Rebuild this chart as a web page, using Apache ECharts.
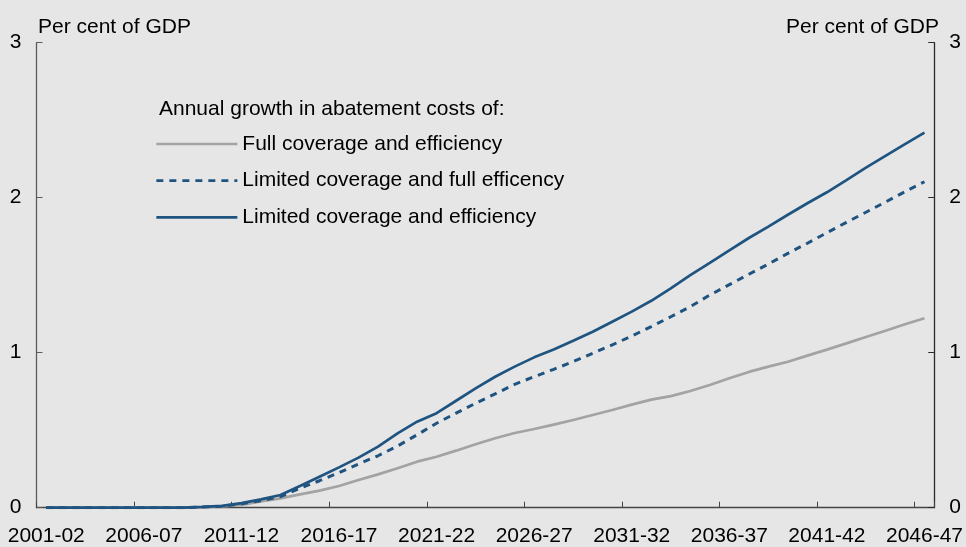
<!DOCTYPE html>
<html lang="en">
<head>
    <title>Annual growth in abatement costs</title>
    <meta charset="utf-8">
    <script src="https://cdn.jsdelivr.net/npm/echarts@6.0.0/dist/echarts.min.js"></script>
    <style>
        body {
            margin: 0;
            background: #e6e6e6;
        }

        #chart {
            width: 966px;
            height: 547px;
        }
    </style>
</head>
<body>
<div id="chart"></div>
<script>
    // financial years 2001-02 .. 2046-47
    const years = [];
    for (let y = 2001; y <= 2046; y++) {
        years.push(y + '-' + String((y + 1) % 100).padStart(2, '0'));
    }

    const yTicks = [0, 1, 2, 3];

    const fullCoverage = [
        0, 0, 0, 0, 0, 0, 0, 0, 0.003, 0.008,
        0.018, 0.04, 0.06, 0.086, 0.11, 0.14, 0.179, 0.215, 0.254, 0.297,
        0.329, 0.368, 0.409, 0.448, 0.482, 0.508, 0.536, 0.566, 0.598, 0.63,
        0.665, 0.697, 0.72, 0.753, 0.792, 0.835, 0.876, 0.91, 0.942, 0.981,
        1.02, 1.06, 1.101, 1.142, 1.183, 1.222
    ];

    const limitedFullEff = [
        0, 0, 0, 0, 0, 0, 0, 0, 0.004, 0.01,
        0.025, 0.045, 0.071, 0.125, 0.174, 0.226, 0.282, 0.335, 0.398, 0.47,
        0.545, 0.61, 0.674, 0.734, 0.796, 0.845, 0.893, 0.942, 0.996, 1.05,
        1.108, 1.168, 1.232, 1.297, 1.372, 1.439, 1.506, 1.572, 1.641, 1.706,
        1.774, 1.841, 1.906, 1.972, 2.039, 2.103
    ];

    const limitedBoth = [
        0, 0, 0, 0, 0, 0, 0, 0, 0.005, 0.012,
        0.03, 0.054, 0.082, 0.14, 0.2, 0.26, 0.323, 0.394, 0.48, 0.555,
        0.61, 0.69, 0.77, 0.845, 0.91, 0.97, 1.02, 1.077, 1.135, 1.2,
        1.265, 1.335, 1.415, 1.5, 1.58, 1.66, 1.74, 1.813, 1.89, 1.964,
        2.035, 2.114, 2.194, 2.27, 2.346, 2.42
    ];

    const seriesNames = [
        'Full coverage and efficiency',
        'Limited coverage and full efficency',
        'Limited coverage and efficiency'
    ];

    const font = '"Liberation Sans", Arial, sans-serif';
    const blue = '#1f5480';
    const grey = '#a3a3a3';

    function yAxisDef(pos, axisColor) {
        return {
            type: 'value',
            position: pos,
            min: yTicks[0],
            max: yTicks[yTicks.length - 1],
            interval: 1,
            splitLine: {show: false},
            axisLine: {show: true, lineStyle: {color: axisColor, width: 1.3}},
            axisTick: {show: true, inside: true, length: 6, lineStyle: {color: axisColor}},
            axisLabel: {color: '#000', fontSize: 21, fontFamily: font, margin: 15}
        };
    }

    const chart = echarts.init(document.getElementById('chart'));
    chart.setOption({
        backgroundColor: '#e6e6e6',
        animation: false,
        grid: {left: 36.5, right: 29.5, top: 42.7, bottom: 39.3, containLabel: false},
        graphic: [
            {
                type: 'text', left: 38, top: 17,
                style: {text: 'Per cent of GDP', font: '21px ' + font, fill: '#000'}
            },
            {
                type: 'text', right: 27, top: 17,
                style: {text: 'Per cent of GDP', font: '21px ' + font, fill: '#000'}
            },
            {
                type: 'text', left: 159, top: 99,
                style: {text: 'Annual growth in abatement costs of:', font: '21px ' + font, fill: '#000'}
            }
        ],
        legend: {
            orient: 'vertical',
            left: 155,
            top: 133,
            padding: 0,
            itemWidth: 81,
            itemHeight: 14,
            itemGap: 14.7,
            data: seriesNames,
            itemStyle: {opacity: 0},
            lineStyle: {width: 2.7},
            textStyle: {color: '#000', fontSize: 21, fontFamily: font, lineHeight: 22}
        },
        xAxis: {
            type: 'category',
            data: years,
            boundaryGap: true,
            axisLine: {show: true, lineStyle: {color: '#444', width: 1.3}},
            axisTick: {show: true, inside: true, length: 6, interval: 4, lineStyle: {color: '#444'}},
            axisLabel: {interval: 4, color: '#000', fontSize: 21, fontFamily: font, margin: 18}
        },
        yAxis: [yAxisDef('left', '#5c5c5c'), yAxisDef('right', '#2a2a2a')],
        series: [
            {
                name: seriesNames[0], type: 'line', data: fullCoverage,
                symbol: 'none', smooth: false,
                lineStyle: {color: grey, width: 2.7}, itemStyle: {color: grey}
            },
            {
                name: seriesNames[1], type: 'line', data: limitedFullEff,
                symbol: 'none', smooth: false,
                lineStyle: {color: blue, width: 3, type: [7, 6]}, itemStyle: {color: blue}
            },
            {
                name: seriesNames[2], type: 'line', data: limitedBoth,
                symbol: 'none', smooth: false,
                lineStyle: {color: blue, width: 2.7}, itemStyle: {color: blue}
            }
        ]
    });
</script>
</body>
</html>
